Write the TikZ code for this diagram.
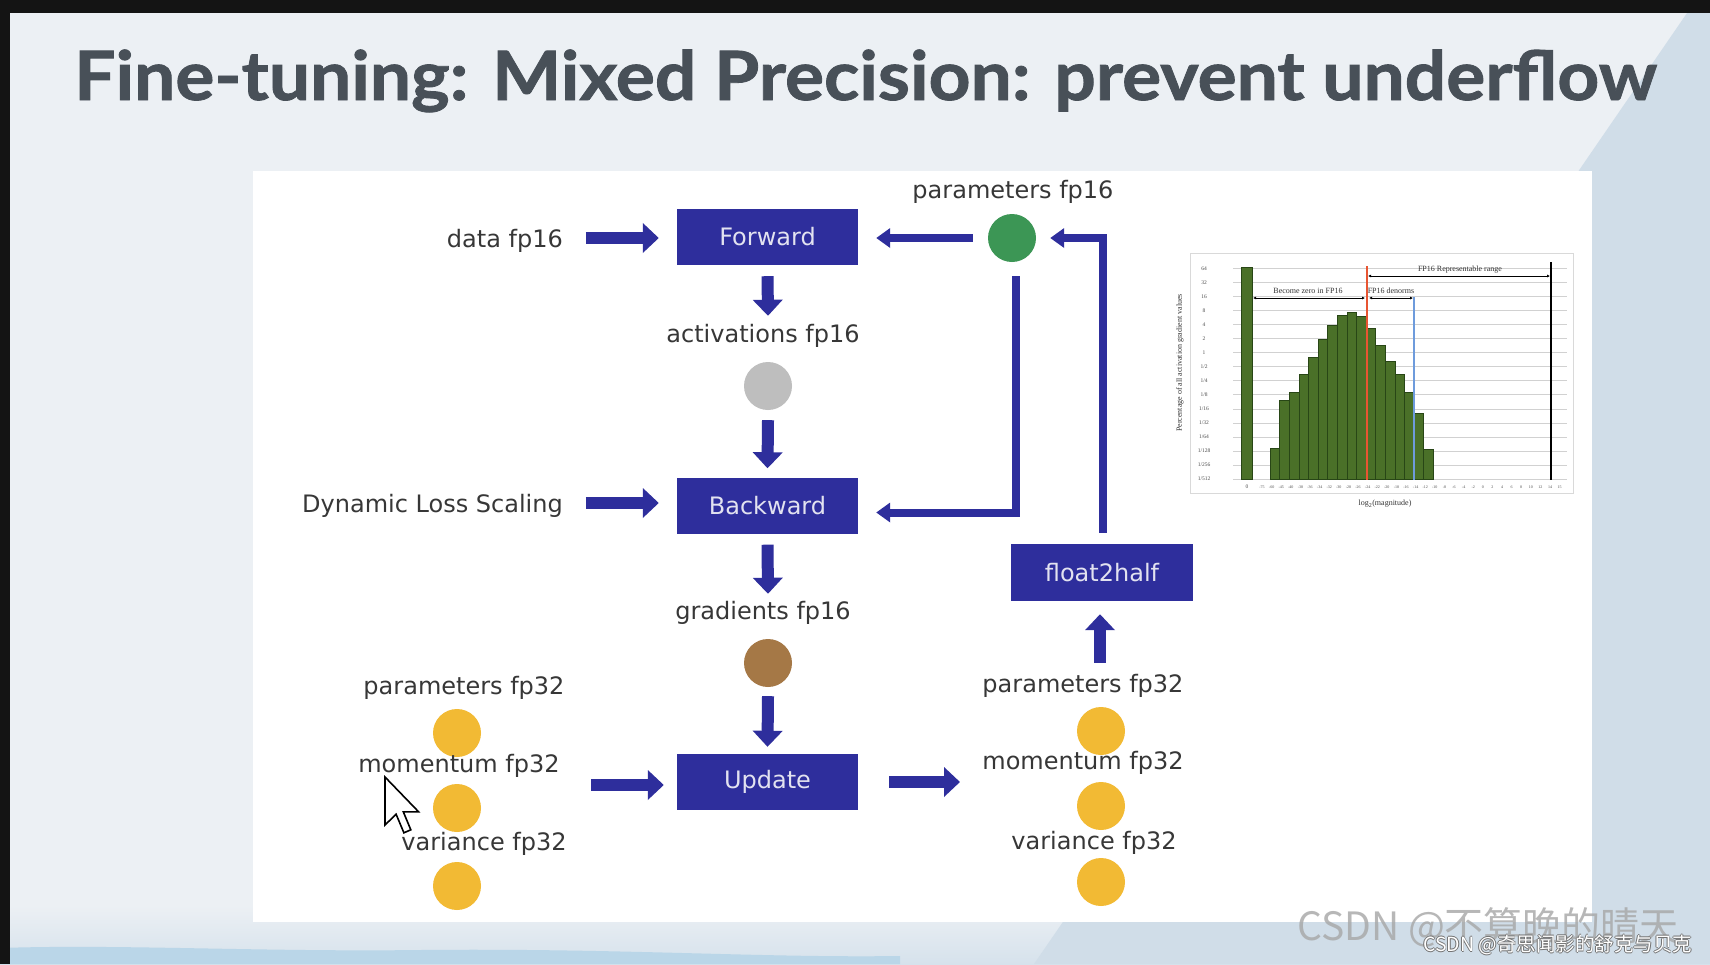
\documentclass[tikz,border=0pt]{standalone}
\usepackage{fontspec}
\usepackage{graphicx}
\setmainfont{DejaVu Sans}
\newfontfamily\titlefont{Lato}[BoldFeatures={FakeBold=1.2}]
\newfontfamily\chartfont{Liberation Serif}
\newfontfamily\cjkfont{Noto Sans CJK SC}
\usetikzlibrary{arrows.meta,calc}
\definecolor{bgc}{RGB}{236,240,244}
\definecolor{bgright}{RGB}{208,221,232}
\definecolor{bgbottom}{RGB}{214,226,236}
\definecolor{wave}{RGB}{186,214,232}
\definecolor{boxblue}{RGB}{46,46,156}
\definecolor{boxtext}{RGB}{226,226,240}
\definecolor{txt}{RGB}{55,55,55}
\definecolor{titlec}{RGB}{72,80,88}
\definecolor{dotgreen}{RGB}{60,150,85}
\definecolor{dotgray}{RGB}{190,190,190}
\definecolor{dotbrown}{RGB}{165,120,70}
\definecolor{dotyellow}{RGB}{242,186,52}
\definecolor{bargreen}{RGB}{74,112,40}
\definecolor{baredge}{RGB}{40,70,22}
\definecolor{redline}{RGB}{232,85,50}
\definecolor{blueline}{RGB}{110,155,220}
\begin{document}
\begin{tikzpicture}[x=1pt,y=-1pt,
  lbl/.style={inner sep=0pt, text=txt, font=\fontsize{24}{28}\selectfont, anchor=base},
  blk/.style={fill=boxblue, minimum width=181pt, minimum height=56pt, inner sep=0pt, text=boxtext, font=\fontsize{24}{28}\selectfont},
  dot/.style={circle, minimum size=48pt, inner sep=0pt},
  fat/.style={draw=boxblue, line width=12pt, -{Triangle[width=29pt,length=16pt]}},
  thin/.style={draw=boxblue, line width=8pt, line join=miter, -{Triangle[width=19pt,length=14pt]}},
  tick/.style={inner sep=0pt, text=black!70, font=\chartfont\fontsize{5.5}{6}\selectfont},
  clabel/.style={inner sep=0pt, text=black!80, font=\chartfont\fontsize{8}{9}\selectfont}
]
\useasboundingbox (0,0) rectangle (1710,964);
% background
\fill[bgc] (0,0) rectangle (1710,964);
\shade[top color=bgc, bottom color=bgbottom] (0,905) rectangle (1710,964);
\fill[wave] (0,948) .. controls (120,944) and (260,952) .. (420,950) .. controls (620,948) and (760,958) .. (900,956) -- (900,964) -- (0,964) -- cycle;
\fill[bgright] (1687,13) -- (1710,13) -- (1710,964) -- (1034,964) -- cycle;
\fill[black!92] (0,0) rectangle (1710,13);
\fill[black!92] (0,0) rectangle (10,964);
% title
\node[inner sep=0pt, anchor=base west, text=titlec, font=\titlefont\bfseries\fontsize{68}{80}\selectfont] (title) at (74,100) {\scalebox{1.075}[1]{Fine-tuning: Mixed Precision: prevent underflow}};
% white panel
\fill[white] (253,171) rectangle (1592,922);

% boxes
\node[blk] (fwd) at (767.5,237) {Forward};
\node[blk] (bwd) at (767.5,505.5) {Backward};
\node[blk] (upd) at (767.5,782) {Update};
\node[blk, minimum width=182pt, minimum height=57pt] (f2h) at (1102,572.5) {float2half};

% dots
\node[dot, fill=dotgreen] (green) at (1012,238) {};
\node[dot, fill=dotgray] (gray) at (768,386) {};
\node[dot, fill=dotbrown] (brown) at (768,663) {};
\node[dot, fill=dotyellow] (lp) at (457,733) {};
\node[dot, fill=dotyellow] (lm) at (457,808) {};
\node[dot, fill=dotyellow] (lv) at (457,886) {};
\node[dot, fill=dotyellow] (rp) at (1101,731) {};
\node[dot, fill=dotyellow] (rm) at (1101,806) {};
\node[dot, fill=dotyellow] (rv) at (1101,882) {};

% labels
\node[lbl, anchor=base east] (data) at (563,247) {data fp16};
\node[lbl] (pf16) at (1013,198) {parameters fp16};
\node[lbl] (act) at (763,342) {activations fp16};
\node[lbl, anchor=base east] (dls) at (563,512) {Dynamic Loss Scaling};
\node[lbl] (grad) at (763,619) {gradients fp16};
\node[lbl] (lpt) at (464,694) {parameters fp32};
\node[lbl] (lmt) at (459,772) {momentum fp32};
\node[lbl] (lvt) at (484,850) {variance fp32};
\node[lbl] (rpt) at (1083,692) {parameters fp32};
\node[lbl] (rmt) at (1083,769) {momentum fp32};
\node[lbl] (rvt) at (1094,849) {variance fp32};

% fat arrows
\draw[fat] ($(fwd.west)+(-91,1)$) -- ($(fwd.west)+(-18,1)$);
\draw[fat] ($(bwd.west)+(-91,-2.5)$) -- ($(bwd.west)+(-18,-2.5)$);
\coordinate (lin) at (591,785);
\draw[fat] (lin) -- ($(lin -| upd.west)+(-13,0)$);
\coordinate (rout) at (960,782);
\draw[fat] ($(upd.east)+(31,0)$) -- (rout);
\draw[fat] ($(fwd.south)+(0,11)$) -- ($(gray.north)+(0,-46)$);
\draw[fat] ($(gray.south)+(0,10)$) -- ($(bwd.north)+(0,-9)$);
\draw[fat] ($(bwd.south)+(0,11)$) -- ($(brown.north)+(0,-45)$);
\draw[fat] ($(brown.south)+(0,9)$) -- ($(upd.north)+(0,-7)$);
\draw[fat] ($(rp.north)+(-1,-44)$) -- ($(f2h.south)+(-2,13)$);

% thin arrows
\draw[thin] ($(green.west)+(-15,0)$) -- ($(fwd.east)+(18,1)$);
\draw[thin] ($(green.south)+(4,14)$) |- ($(bwd.east)+(18,7)$);
\draw[thin] ($(f2h.north)+(1,-11)$) |- ($(green.east)+(14,0)$);

% chart
\begin{scope}
\draw[black!15, fill=white] (1190,253) rectangle (1573,493);
\foreach \k [count=\j from 0] in {64,32,16,8,4,2,1,1/2,1/4,1/8,1/16,1/32,1/64,1/128,1/256,1/512}{
  \draw[black!18, line width=0.6pt] (1233,268.3+14.05*\j) -- (1567,268.3+14.05*\j);
  \node[tick] at (1204,268.3+14.05*\j) {\k};
}
\fill[bargreen, draw=baredge, line width=0.4pt] (1241,267) rectangle (1252,479);
\foreach \t [count=\i from 0] in {448.3,400,391.7,374.3,356.7,339.3,325,315,311.7,316,328.3,345,360.7,374.3,391.7,413.3,449.3}{
  \fill[bargreen, draw=baredge, line width=0.4pt] (1270+9.6*\i,\t) rectangle (1279.6+9.6*\i,479);
}
\draw[redline, line width=1.6pt] (1367,266) -- (1367,480);
\draw[blueline, line width=1.4pt] (1414,297) -- (1414,480);
\draw[black, line width=1.6pt] (1551,262) -- (1551,480);
\draw[black, line width=0.8pt, {Latex[length=3pt,width=3pt]}-{Latex[length=3pt,width=3pt]}] (1368,276) -- (1550,276);
\draw[black, line width=0.8pt, {Latex[length=3pt,width=3pt]}-{Latex[length=3pt,width=3pt]}] (1253,298) -- (1365,298);
\draw[black, line width=0.8pt, {Latex[length=3pt,width=3pt]}-{Latex[length=3pt,width=3pt]}] (1369,298) -- (1413,298);
\node[clabel] at (1460,269.5) {FP16 Representable range};
\node[clabel] at (1308,291) {Become zero in FP16};
\node[clabel] at (1391,291) {FP16 denorms};
\node[tick] at (1247,487) {0};
\foreach \v [count=\i from 0] in {-75,-60,-45,-40,-38,-36,-34,-32,-30,-28,-26,-24,-22,-20,-18,-16,-14,-12,-10,-8,-6,-4,-2,0,2,4,6,8,10,12,14,15}{
  \node[tick, font=\chartfont\fontsize{4}{5}\selectfont] at (1262+9.6*\i,487) {\v};
}
\node[clabel] at (1385,504) {log\textsubscript{2}(magnitude)};
\node[clabel, rotate=90] at (1180,363) {Percentage of all activation gradient values};
\end{scope}

% mouse cursor
\draw[black, fill=white, line width=1.6pt, line join=miter, shift={(385,777)}, scale=3]
  (0,0) -- (0,16) -- (3.7,12.4) -- (6.3,18.6) -- (8.6,17.6) -- (6.1,11.6) -- (11.2,11.6) -- cycle;

% watermarks
\node[inner sep=0pt, anchor=west, text=black!35, opacity=0.8, font=\cjkfont\fontsize{39}{42}\selectfont] (wm1) at (1297,927) {CSDN @不算晚的晴天};
\foreach \dx/\dy in {-0.8/0,0.8/0,0/-0.8,0/0.8}{
  \node[inner sep=0pt, anchor=west, text=black!55, font=\cjkfont\fontsize{19.5}{22}\selectfont] at (1423+\dx,945+\dy) {CSDN @奇思闻影的舒克与贝克};
}
\node[inner sep=0pt, anchor=west, text=white, font=\cjkfont\fontsize{19.5}{22}\selectfont] (wm2) at (1423,945) {CSDN @奇思闻影的舒克与贝克};
\end{tikzpicture}
\end{document}
